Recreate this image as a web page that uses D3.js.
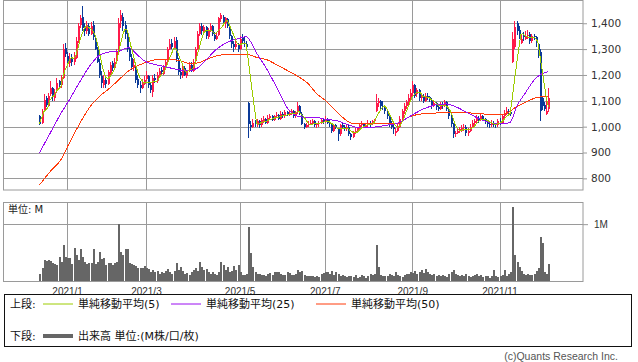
<!DOCTYPE html>
<html>
<head>
<meta charset="utf-8">
<script src="https://cdn.jsdelivr.net/npm/d3@7"></script>
<style>
  body { margin: 0; background: #fff; }
  svg { display: block; font-family: "DejaVu Sans", "Noto Sans CJK JP", sans-serif; }
</style>
</head>
<body>
<svg width="638" height="362"></svg>
<script>
// daily candles, 2020/12/14 .. 2021/12/6 : [open, high, low, close]
const ohlc = [
  [1040,1045,1005,1012],[1015,1070,1010,1055],[1060,1125,1055,1105],[1110,1120,1075,1085],[1080,1130,1075,1120],
  [1125,1175,1120,1150],[1150,1155,1100,1115],[1110,1145,1100,1135],[1140,1190,1130,1170],[1175,1180,1145,1160],
  [1160,1200,1150,1185],[1190,1320,1185,1300],[1305,1325,1270,1280],
  // 2021/1
  [1275,1290,1235,1250],[1245,1285,1230,1265],[1270,1280,1235,1250],[1250,1290,1240,1270],[1265,1345,1260,1330],
  [1335,1400,1325,1390],[1395,1430,1380,1420],[1425,1465,1370,1380],[1385,1400,1350,1370],[1370,1410,1360,1395],
  [1390,1400,1350,1360],[1360,1405,1355,1390],[1395,1410,1335,1345],[1340,1350,1295,1300],[1300,1310,1245,1250],
  [1245,1260,1190,1200],[1195,1215,1150,1170],[1160,1200,1150,1180],[1180,1195,1150,1165],
  // 2021/2
  [1165,1220,1160,1210],[1205,1250,1200,1240],[1245,1255,1215,1225],[1225,1265,1220,1250],[1255,1300,1245,1290],
  [1290,1420,1285,1400],[1410,1452,1380,1430],[1425,1440,1370,1390],[1395,1410,1340,1360],[1355,1370,1290,1300],
  [1300,1310,1255,1270],[1265,1280,1220,1230],[1225,1260,1215,1240],[1235,1245,1170,1180],[1185,1200,1150,1160],
  [1160,1175,1130,1150],[1150,1185,1145,1170],[1165,1195,1160,1180],
  // 2021/3
  [1185,1215,1175,1200],[1195,1200,1150,1160],[1160,1170,1130,1140],[1135,1200,1115,1190],[1190,1205,1170,1180],
  [1175,1210,1170,1200],[1200,1225,1195,1215],[1220,1230,1200,1210],[1205,1240,1200,1230],[1230,1260,1225,1250],
  [1255,1310,1250,1300],[1300,1340,1295,1320],[1325,1340,1300,1310],[1305,1345,1300,1330],[1335,1345,1250,1260],
  [1255,1265,1200,1210],[1210,1225,1185,1200],[1195,1240,1190,1230],[1225,1235,1195,1200],[1195,1220,1190,1210],
  [1215,1250,1210,1240],[1240,1250,1210,1220],[1215,1260,1210,1250],
  // 2021/4
  [1255,1310,1250,1300],[1300,1370,1295,1360],[1360,1400,1350,1390],[1390,1400,1355,1370],[1365,1395,1360,1385],
  [1385,1390,1340,1350],[1345,1380,1340,1370],[1370,1400,1365,1390],[1390,1395,1350,1360],[1355,1365,1330,1340],
  [1340,1365,1335,1350],[1355,1425,1350,1420],[1415,1440,1405,1430],[1425,1430,1390,1400],[1400,1425,1380,1420],
  [1415,1420,1380,1390],[1385,1395,1340,1350],[1350,1355,1305,1320],[1320,1330,1290,1310],[1310,1335,1300,1320],
  [1315,1325,1290,1300],
  // 2021/5
  [1300,1350,1295,1340],[1345,1360,1320,1330],[1325,1345,1310,1320],[1320,1330,1295,1310],[1090,1095,955,1010],
  [1005,1020,985,1000],[1000,1030,995,1015],[1015,1025,1000,1010],[1005,1030,1000,1020],[1020,1025,995,1005],
  [1005,1035,1000,1025],[1020,1040,1015,1030],[1030,1035,1010,1015],[1015,1045,1010,1035],[1035,1050,1030,1040],
  [1040,1045,1020,1025],[1025,1045,1020,1040],[1040,1055,1035,1045],
  // 2021/6
  [1045,1050,1025,1030],[1030,1060,1025,1050],[1050,1055,1035,1040],[1040,1065,1035,1055],[1055,1060,1040,1045],
  [1045,1060,1040,1050],[1050,1070,1045,1060],[1060,1065,1035,1040],[1040,1060,1035,1055],[1055,1095,1050,1080],
  [1080,1085,1045,1050],[1050,1055,1005,1010],[1010,1015,990,1000],[1000,1015,995,1005],[1005,1020,1000,1010],
  [1010,1025,1005,1015],[1015,1030,1010,1020],[1020,1025,1000,1005],[1005,1015,995,1010],[1010,1020,1000,1015],
  [1015,1030,1010,1025],[1025,1030,1010,1020],
  // 2021/7
  [1020,1040,1015,1030],[1030,1035,1010,1015],[1015,1025,1000,1010],[1010,1015,975,985],[985,1010,980,1005],
  [1005,1010,990,995],[990,995,945,970],[970,1010,965,1005],[1005,1015,995,1000],[1000,1005,985,990],
  [990,1010,985,1000],[1000,1005,965,970],[970,975,950,960],[960,985,955,975],[975,995,970,985],
  [985,1000,980,995],[995,1010,990,1005],[1005,1020,1000,1010],[1010,1015,995,1000],[1000,1015,995,1005],
  // 2021/8
  [1005,1025,1000,1015],[1015,1020,1000,1010],[1010,1025,1005,1020],[1020,1030,1015,1025],[1060,1125,1055,1090],
  [1090,1110,1075,1100],[1100,1105,1070,1080],[1080,1100,1065,1075],[1075,1085,1050,1060],[1060,1070,1030,1040],
  [1040,1045,1000,1010],[1010,1020,990,1000],[1000,1005,970,990],[975,995,965,985],[985,1010,980,1000],
  [1000,1040,995,1030],[1030,1070,1025,1060],[1060,1090,1050,1080],[1080,1105,1070,1095],[1095,1125,1085,1110],
  [1110,1145,1100,1130],
  // 2021/9
  [1130,1175,1120,1160],[1160,1165,1110,1120],[1125,1150,1115,1140],[1140,1145,1100,1110],[1110,1130,1100,1120],
  [1120,1125,1090,1100],[1100,1130,1095,1120],[1120,1130,1105,1115],[1115,1120,1095,1105],[1105,1110,1070,1080],
  [1080,1100,1075,1090],[1090,1095,1065,1075],[1075,1085,1060,1070],[1070,1095,1065,1085],[1085,1095,1070,1080],
  [1080,1105,1075,1095],[1095,1100,1060,1070],[1070,1075,1030,1040],[1040,1045,1000,1010],[1010,1015,958,970],
  // 2021/10
  [970,985,960,975],[975,995,970,985],[985,1000,975,990],[990,1005,980,995],[995,1010,985,1000],
  [1000,1005,965,975],[975,995,965,985],[985,1010,980,1000],[1000,1025,995,1015],[1015,1030,1005,1020],
  [1020,1045,1015,1030],[1030,1040,1015,1025],[1025,1050,1020,1040],[1040,1045,1020,1030],[1030,1035,1010,1020],
  [1020,1025,1000,1010],[1010,1020,995,1005],[1005,1025,1000,1015],[1015,1020,1000,1010],[1010,1015,995,1005],
  [1005,1030,1000,1020],
  // 2021/11
  [1020,1035,1005,1015],[1015,1050,1010,1040],[1040,1065,1035,1050],[1050,1075,1045,1060],[1060,1070,1045,1055],
  [1055,1065,1040,1050],[1250,1365,1245,1340],[1310,1410,1300,1385],[1400,1410,1355,1370],[1375,1390,1340,1355],
  [1325,1360,1320,1340],[1350,1365,1330,1345],[1340,1370,1335,1350],[1350,1375,1340,1355],[1360,1365,1320,1330],
  [1330,1360,1325,1350],[1350,1360,1335,1345],[1345,1350,1310,1330],[1320,1325,1265,1280],[1290,1300,1020,1060],
  // 2021/12
  [1110,1120,1065,1080],[1085,1095,1060,1070],[1050,1100,1045,1060],[1070,1150,1055,1110]
];

// volume, millions of shares
const volume = [
  0.13,0.23,0.37,0.36,0.37,0.35,0.31,0.30,0.28,0.43,0.33,0.63,0.43,
  0.40,0.40,0.30,0.58,0.45,0.37,0.56,0.42,0.34,0.30,0.31,0.32,0.56,0.30,0.34,0.51,0.38,0.40,0.28,
  0.31,0.31,0.28,0.31,0.34,1.01,0.51,0.45,0.56,0.56,0.31,0.30,0.29,0.26,0.23,0.22,0.23,0.27,
  0.22,0.21,0.16,0.19,0.15,0.17,0.13,0.16,0.14,0.18,0.21,0.15,0.12,0.17,0.31,0.19,0.25,0.17,0.12,0.14,0.10,0.16,0.20,
  0.23,0.18,0.34,0.25,0.19,0.21,0.15,0.13,0.16,0.12,0.11,0.15,0.33,0.28,0.19,0.24,0.16,0.18,0.27,0.20,0.28,
  0.16,0.11,0.10,0.12,0.95,0.49,0.25,0.16,0.13,0.12,0.10,0.11,0.09,0.12,0.14,0.11,0.16,0.15,
  0.16,0.13,0.10,0.11,0.15,0.14,0.11,0.10,0.13,0.19,0.15,0.18,0.10,0.08,0.09,0.08,0.08,0.07,0.08,0.07,0.12,0.14,
  0.16,0.15,0.13,0.17,0.10,0.15,0.12,0.09,0.10,0.08,0.07,0.09,0.08,0.07,0.10,0.06,0.07,0.11,0.08,0.06,
  0.09,0.13,0.10,0.12,0.63,0.25,0.11,0.09,0.08,0.09,0.12,0.10,0.09,0.15,0.11,0.08,0.07,0.10,0.13,0.12,0.16,
  0.14,0.18,0.12,0.15,0.19,0.14,0.21,0.16,0.12,0.10,0.13,0.09,0.11,0.08,0.10,0.09,0.07,0.12,0.15,0.19,
  0.13,0.11,0.09,0.10,0.08,0.12,0.09,0.07,0.08,0.10,0.13,0.08,0.10,0.07,0.09,0.08,0.06,0.08,0.19,0.09,0.07,
  0.08,0.10,0.19,0.08,0.12,0.16,1.30,0.46,0.34,0.25,0.18,0.13,0.11,0.12,0.10,0.11,0.13,0.18,0.22,0.78,
  0.66,0.16,0.12,0.30
];

// 25- and 50-day averages: [day index, value]
const ma25 = [
  [0,899],[5,974],[10,1050],[14,1103],[19,1174],[24,1239],[27,1268],[32,1288],[38,1294],[42,1306],
  [46,1277],[50,1251],[55,1239],[60,1230],[66,1219],[71,1217],[74,1226],[79,1265],[83,1299],[89,1329],
  [94,1342],[97,1348],[102,1284],[107,1219],[112,1142],[116,1077],[121,1041],[126,1035],[131,1034],[134,1029],
  [140,1022],[145,1007],[150,996],[154,996],[159,1000],[164,1007],[168,1013],[172,1030],[176,1050],[181,1071],
  [186,1084],[191,1088],[196,1075],[200,1058],[203,1045],[206,1032],[210,1019],[214,1013],[219,1013],[221,1017],
  [224,1077],[228,1129],[233,1187],[236,1205],[239,1213]
];
const ma50 = [
  [0,774],[5,826],[10,871],[14,936],[19,1013],[24,1080],[28,1116],[33,1149],[38,1187],[42,1217],
  [47,1239],[52,1254],[57,1261],[61,1261],[66,1255],[71,1243],[75,1248],[80,1265],[85,1277],[91,1281],
  [97,1281],[102,1268],[107,1258],[111,1241],[116,1219],[121,1196],[126,1168],[130,1129],[134,1103],[140,1054],
  [147,1013],[156,1013],[164,1013],[168,1013],[174,1039],[183,1052],[195,1054],[205,1052],[210,1048],[215,1045],
  [220,1055],[224,1077],[229,1097],[234,1114],[239,1116]
];

const monthIdx = [13, 50, 94, 134, 175, 216];
const monthLabels = ['2021/1', '2021/3', '2021/5', '2021/7', '2021/9', '2021/11'];
const priceTicks = [800, 900, 1000, 1100, 1200, 1300, 1400];
const volTicks = [1];

const svg = d3.select('svg');
const upper = {left: 3, right: 583, top: 0.5, bottom: 190};
const lower = {top: 202, bottom: 281};
const gridColor = '#9a9a9a';
const upColor = '#ff1a4a';
const downColor = '#0b3a98';

const x = d3.scaleLinear().domain([-17.1, 255.2]).range([upper.left, upper.right]);
const y = d3.scaleLinear().domain([755, 1488]).range([upper.bottom, upper.top]);
const yv = d3.scaleLinear().domain([0, 1.39]).range([lower.bottom, lower.top]);

const candles = ohlc.map((d, i) => ({i, open: d[0], high: d[1], low: d[2], close: d[3]}));
// 5-day average from closes
const ma5 = candles.map((d, i) => [i, d3.mean(candles.slice(Math.max(0, i - 4), i + 1), c => c.close)]);

// ---- upper panel grid
const gU = svg.append('g');
gU.selectAll('.hgrid').data(priceTicks).enter().append('line')
  .attr('x1', upper.left).attr('x2', upper.right)
  .attr('y1', d => Math.round(y(d)) + 0.5).attr('y2', d => Math.round(y(d)) + 0.5)
  .attr('stroke', gridColor);
gU.selectAll('.vgrid').data(monthIdx).enter().append('line')
  .attr('x1', d => Math.round(x(d)) + 0.5).attr('x2', d => Math.round(x(d)) + 0.5)
  .attr('y1', upper.top).attr('y2', upper.bottom)
  .attr('stroke', gridColor);
gU.append('rect')
  .attr('x', upper.left + 0.5).attr('y', upper.top)
  .attr('width', upper.right - upper.left - 0.5).attr('height', upper.bottom - upper.top)
  .attr('fill', 'none').attr('stroke', gridColor);

const yAxis = d3.axisRight(y).tickValues(priceTicks).tickSize(4).tickPadding(4)
  .tickFormat(d3.format(','));
const yAxisG = svg.append('g').attr('transform', `translate(${upper.right},0)`).call(yAxis);
yAxisG.select('.domain').remove();
yAxisG.selectAll('line').attr('stroke', gridColor);
yAxisG.selectAll('text').attr('font-size', 10.5).attr('fill', '#333')
  .attr('font-family', '"DejaVu Sans", sans-serif');

// ---- candles
const cg = svg.append('g').attr('shape-rendering', 'crispEdges');
const col = d => d.close >= d.open ? upColor : downColor;
cg.selectAll('.wick').data(candles).enter().append('line')
  .attr('x1', d => Math.round(x(d.i)) + 0.5).attr('x2', d => Math.round(x(d.i)) + 0.5)
  .attr('y1', d => y(d.high)).attr('y2', d => y(d.low))
  .attr('stroke', col);
cg.selectAll('.body').data(candles).enter().append('rect')
  .attr('x', d => Math.round(x(d.i)) - 0.5)
  .attr('width', 2)
  .attr('y', d => y(Math.max(d.open, d.close)))
  .attr('height', d => Math.max(1, Math.abs(y(d.open) - y(d.close))))
  .attr('fill', col);

// ---- moving averages (drawn aliased, like the source)
const line = d3.line().x(d => x(d[0])).y(d => y(d[1]));
const smooth = d3.line().x(d => x(d[0])).y(d => y(d[1])).curve(d3.curveMonotoneX);
const maG = svg.append('g').attr('shape-rendering', 'crispEdges').attr('fill', 'none');
maG.append('path').datum(ma50).attr('d', smooth)
  .attr('stroke', '#ff3b0a').attr('stroke-width', 1);
maG.append('path').datum(ma25).attr('d', smooth)
  .attr('stroke', '#9a0cf0').attr('stroke-width', 1);
maG.append('path').datum(ma5).attr('d', line)
  .attr('stroke', '#9ccc00').attr('stroke-width', 1);

// ---- lower panel (volume)
const gL = svg.append('g');
gL.selectAll('.vgrid').data(monthIdx).enter().append('line')
  .attr('x1', d => Math.round(x(d)) + 0.5).attr('x2', d => Math.round(x(d)) + 0.5)
  .attr('y1', lower.top).attr('y2', lower.bottom)
  .attr('stroke', gridColor);
gL.selectAll('.hgrid').data(volTicks).enter().append('line')
  .attr('x1', upper.left).attr('x2', upper.right)
  .attr('y1', d => Math.round(yv(d)) + 0.5).attr('y2', d => Math.round(yv(d)) + 0.5)
  .attr('stroke', gridColor);

gL.append('g').attr('shape-rendering', 'crispEdges')
  .selectAll('rect').data(volume).enter().append('rect')
  .attr('x', (d, i) => Math.round(x(i)) - 0.5)
  .attr('width', 2.2)
  .attr('y', d => yv(d))
  .attr('height', d => lower.bottom - yv(d))
  .attr('fill', '#666');

gL.append('rect')
  .attr('x', upper.left + 0.5).attr('y', lower.top + 0.5)
  .attr('width', upper.right - upper.left - 0.5).attr('height', lower.bottom - lower.top)
  .attr('fill', 'none').attr('stroke', gridColor);

const vAxis = d3.axisRight(yv).tickValues(volTicks).tickSize(5).tickPadding(6)
  .tickFormat(d => d + 'M');
const vAxisG = svg.append('g').attr('transform', `translate(${upper.right},0)`).call(vAxis);
vAxisG.select('.domain').remove();
vAxisG.selectAll('line').attr('stroke', gridColor);
vAxisG.selectAll('text').attr('font-size', 10).attr('fill', '#333');

svg.append('text').attr('x', 8).attr('y', 213)
  .attr('font-size', 10).attr('fill', '#222').text('単位: M');

const xAxis = d3.axisBottom(x).tickValues(monthIdx).tickSize(0).tickPadding(7)
  .tickFormat((d, i) => monthLabels[i]);
const xAxisG = svg.append('g').attr('transform', `translate(0,${lower.bottom})`).call(xAxis);
xAxisG.select('.domain').remove();
xAxisG.selectAll('text').attr('font-size', 10).attr('fill', '#333');

// ---- legend
const lg = svg.append('g');
lg.append('rect').attr('x', 4.5).attr('y', 294.5).attr('width', 627).attr('height', 52)
  .attr('fill', 'none').attr('stroke', '#111');
const legendTop = [
  {label: '単純移動平均(5)', color: '#9ccc00', x: 43},
  {label: '単純移動平均(25)', color: '#9a0cf0', x: 171},
  {label: '単純移動平均(50)', color: '#ff3b0a', x: 316}
];
lg.append('text').attr('x', 10).attr('y', 308).attr('font-size', 11).attr('fill', '#111').text('上段:');
legendTop.forEach(d => {
  lg.append('line').attr('x1', d.x).attr('x2', d.x + 30).attr('y1', 304).attr('y2', 304)
    .attr('stroke', d.color).attr('stroke-width', 1);
  lg.append('text').attr('x', d.x + 35).attr('y', 308).attr('font-size', 11).attr('fill', '#111')
    .text(d.label);
});
lg.append('text').attr('x', 10).attr('y', 340).attr('font-size', 11).attr('fill', '#111').text('下段:');
lg.append('line').attr('x1', 43).attr('x2', 73).attr('y1', 336).attr('y2', 336)
  .attr('stroke', '#666').attr('stroke-width', 4);
lg.append('text').attr('x', 78).attr('y', 340).attr('font-size', 11).attr('fill', '#111')
  .text('出来高 単位:(M株/口/枚)');

svg.append('text').attr('x', 618).attr('y', 360).attr('text-anchor', 'end')
  .attr('font-size', 10.5).attr('fill', '#555')
  .attr('font-family', '"Liberation Sans", "DejaVu Sans", sans-serif')
  .text('(c)Quants Research Inc.');
</script>
</body>
</html>
